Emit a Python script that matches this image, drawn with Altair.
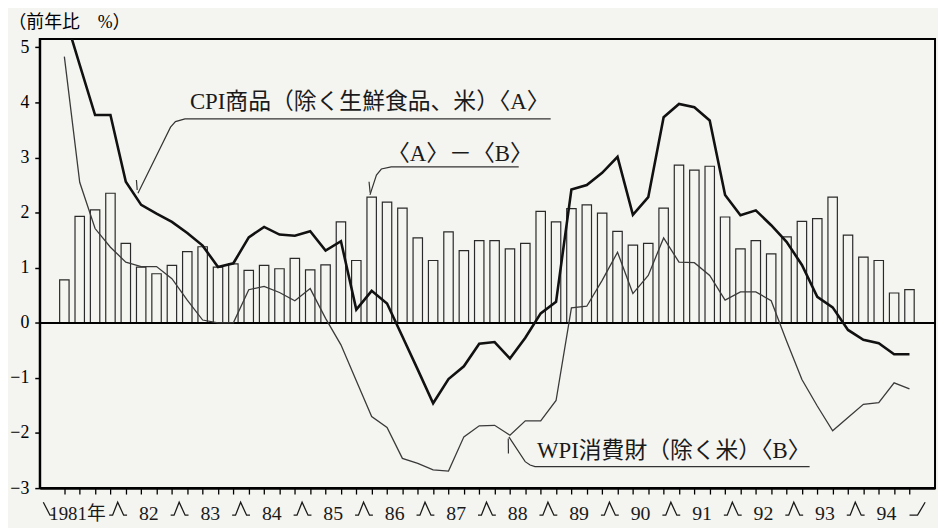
import altair as alt
import pandas as pd

FONT = "'Liberation Serif', 'Noto Sans CJK JP'"
BG = "#f4f4f0"

# ---------------- data (quarterly, 1981Q1 .. 1994Q4) ----------------
quarters = list(range(56))
diff_ab = [0.78, 1.93, 2.05, 2.35, 1.44, 1.01, 0.89, 1.04, 1.29, 1.38,
           1.01, 1.07, 0.95, 1.04, 0.98, 1.17, 0.96, 1.05, 1.83, 1.13,
           2.28, 2.19, 2.08, 1.54, 1.13, 1.65, 1.31, 1.49, 1.49, 1.34,
           1.44, 2.02, 1.83, 2.07, 2.14, 1.99, 1.66, 1.41, 1.44, 2.08,
           2.86, 2.77, 2.84, 1.92, 1.34, 1.49, 1.25, 1.56, 1.84, 1.89,
           2.28, 1.59, 1.19, 1.13, 0.54, 0.60]
cpi = [5.60, 4.68, 3.77, 3.77, 2.56, 2.14, 1.98, 1.83, 1.63, 1.40,
       1.01, 1.08, 1.55, 1.74, 1.60, 1.58, 1.66, 1.31, 1.48, 0.24,
       0.58, 0.35, -0.25, -0.85, -1.46, -1.02, -0.79, -0.38, -0.35, -0.65,
       -0.27, 0.17, 0.38, 2.42, 2.50, 2.72, 3.01, 1.96, 2.28, 3.73,
       3.97, 3.91, 3.67, 2.32, 1.95, 2.04, 1.77, 1.47, 1.05, 0.47,
       0.28, -0.13, -0.31, -0.37, -0.57, -0.57]
wpi = [4.83, 2.55, 1.71, 1.37, 1.10, 1.02, 1.02, 0.80, 0.41, 0.05,
       0.00, 0.00, 0.60, 0.66, 0.55, 0.40, 0.62, 0.08, -0.40, -1.05,
       -1.70, -1.90, -2.46, -2.55, -2.67, -2.69, -2.07, -1.87, -1.86, -2.04,
       -1.78, -1.78, -1.41, 0.27, 0.30, 0.77, 1.28, 0.53, 0.86, 1.54,
       1.10, 1.09, 0.86, 0.41, 0.56, 0.56, 0.40, -0.33, -1.03, -1.51,
       -1.96, -1.72, -1.48, -1.45, -1.09, -1.20]
year_labels = ["1981年", "82", "83", "84", "85", "86", "87", "88",
               "89", "90", "91", "92", "93", "94"]
y_ticks = [-3, -2, -1, 0, 1, 2, 3, 4, 5]

# callout texts and leader lines (data units: quarter index, percent)
note_text = ["CPI商品（除く生鮮食品、米）〈A〉", "〈A〉－〈B〉", "WPI消費財（除く米）〈B〉"]
note_x = [8.17, 21.0, 30.76]
note_y = [4.00, 3.07, -2.33]

lead_group = ["a"] * 5 + ["at"] * 2 + ["d"] * 5 + ["dt"] * 2 + ["w"] * 5 + ["wt"] * 2
lead_x = [31.65, 7.85, 7.23, 6.91, 4.79, 4.69, 4.74,
          29.57, 21.27, 20.63, 20.31, 19.89, 19.83, 19.90,
          28.93, 29.99, 30.31, 30.63, 48.50, 28.89, 28.90]
lead_y = [3.70, 3.70, 3.65, 3.55, 2.35, 2.59, 2.41,
          2.83, 2.83, 2.79, 2.68, 2.32, 2.56, 2.36,
          -2.07, -2.52, -2.58, -2.61, -2.61, -2.10, -2.37]

# ---------------- tables ----------------
df = pd.DataFrame({"q": quarters, "d": diff_ab, "c": cpi, "w": wpi})
notes = pd.DataFrame({"q": note_x, "v": note_y, "t": note_text})
leads = pd.DataFrame({"q": lead_x, "v": lead_y, "g": lead_group,
                      "o": list(range(len(lead_x)))})
n_years = len(year_labels)
labels = pd.DataFrame({"q": [4 * k + 1.5 for k in range(1, n_years)],
                       "t": year_labels[1:]})
first_label = pd.DataFrame({"q": [1.5], "t": [year_labels[0]]})
marks = pd.DataFrame({
    "q": [-1.05] + [4 * k - 0.5 for k in range(1, n_years)] + [4 * n_years - 0.3],
    "k": ["start"] + ["mid"] * (n_years - 1) + ["end"],
})

xs = alt.Scale(domain=[-1.28, 56.34], nice=False, zero=False)
ys = alt.Scale(domain=[-3, 5.15], nice=False, zero=False)
xa = alt.Axis(values=quarters, labels=False, tickSize=6, tickWidth=1.3,
              tickColor="black", domainColor="black", domainWidth=2.5,
              grid=False)
ya = alt.Axis(values=y_ticks, format="d", tickSize=5, tickWidth=1.5,
              tickColor="black", domainColor="black", domainWidth=2,
              grid=False, labelFont=FONT, labelFontSize=18,
              labelColor="black", labelPadding=6,
              title="（前年比　%）", titleAngle=0,
              titleX=-32, titleY=-17, titleAlign="left",
              titleBaseline="middle", titleFont=FONT, titleFontSize=18,
              titleFontWeight="normal", titleColor="black")


def X(f):
    return alt.X(f, scale=xs, axis=xa, title=None)


def Y(f):
    return alt.Y(f, scale=ys, axis=ya)


bars = alt.Chart(df).mark_bar(width=9.5, fill=BG, stroke="#2a2a2a",
                              strokeWidth=1.2).encode(x=X("q:Q"), y=Y("d:Q"))
zero = alt.Chart(df).mark_rule(color="black", strokeWidth=1.5).encode(
    y=alt.datum(0, scale=ys))
wline = alt.Chart(df).mark_line(color="#3a3a3a", strokeWidth=1.3).encode(
    x=X("q:Q"), y=Y("w:Q"))
cline = alt.Chart(df).mark_line(color="#111111", strokeWidth=2.6,
                                clip=True).encode(x=X("q:Q"), y=Y("c:Q"))
leaders = alt.Chart(leads).mark_line(color="#333333", strokeWidth=1.2).encode(
    x=X("q:Q"), y=Y("v:Q"), detail="g:N", order="o:Q")
note_marks = alt.Chart(notes).mark_text(
    font=FONT, fontSize=23, align="left", baseline="middle", color="#1a1a1a"
).encode(x=X("q:Q"), y=Y("v:Q"), text="t:N")
xlab = alt.Chart(labels).mark_text(
    font=FONT, fontSize=20, baseline="middle", color="#1a1a1a"
).encode(x=X("q:Q"), y=alt.value(479), text="t:N")
xlab0 = alt.Chart(first_label).mark_text(
    font=FONT, fontSize=19, baseline="middle", color="#1a1a1a", dx=-10
).encode(x=X("q:Q"), y=alt.value(479), text="t:N")
chevrons = alt.Chart(marks).mark_point(
    filled=False, stroke="#1a1a1a", strokeWidth=1.3, size=324, opacity=1
).encode(
    x=X("q:Q"), y=alt.value(474),
    shape=alt.Shape("k:N", legend=None, scale=alt.Scale(
        domain=["start", "mid", "end"],
        range=["M -0.55 -0.75 L 0.2 0.7 L 0.75 0.7",
               "M -1 0.7 L -0.62 0.7 L -0.05 -0.75 L 0.62 0.7 L 1 0.7",
               "M -1.2 0.7 L -0.3 0.7 L 0.55 -0.75"])))

chart = alt.layer(bars, zero, wline, cline, leaders, note_marks,
                  xlab, xlab0, chevrons).properties(
    width=903, height=453,
    padding={"left": 32, "top": 29, "right": 3, "bottom": 38},
    autosize=alt.AutoSizeParams(type="none"),
    background=BG,
).configure_view(stroke="black", strokeWidth=2)

chart.save("out.html", embed_options={"renderer": "svg", "actions": False})
